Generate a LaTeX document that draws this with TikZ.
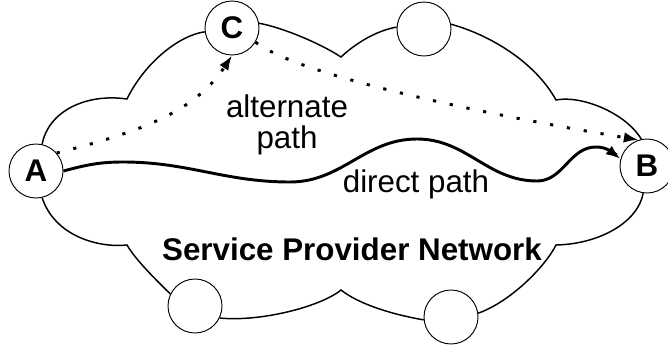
\documentclass[tikz,border=0pt]{standalone}
\usepackage{fontspec}
\setmainfont{Liberation Sans}
\usetikzlibrary{arrows.meta}
\tikzset{
    site/.style={
    circle,
    draw,
    line width=0.7pt,
    minimum size=40.5pt,
    inner sep=0pt,
    font=\fontsize{23.5}{23.5}\selectfont\bfseries
  },
    cloudline/.style={
    line width=1.1pt
  },
    directpath/.style={
    line width=2.2pt,
    -{Latex[length=11pt,width=8pt]}
  },
    altpath/.style={
    line width=2.2pt,
    dash pattern=on 2.4pt off 10.4pt,
    -{Latex[length=11pt,width=8pt]}
  },
    pathlabel/.style={
    font=\fontsize{23.5}{23.3}\selectfont,
    align=center,
    inner sep=0pt
  }
}

\begin{document}
\begin{tikzpicture}[x=0.75pt, y=0.75pt]
  \useasboundingbox (0,0) rectangle (668,347);

  \node[site] (n_A) at (36,176) {A};
  \node[site] (n_C) at (232,319) {C};
  \node[site] (n_D) at (424,318) {};
  \node[site] (n_B) at (647,181) {B};
  \node[site] (n_E) at (195,41) {};
  \node[site] (n_F) at (451,30) {};

  \coordinate (k_1) at (127,248);
  \coordinate (k_2) at (341,290);
  \coordinate (k_3) at (556,247);
  \coordinate (k_4) at (556,102);
  \coordinate (k_5) at (341,57);
  \coordinate (k_6) at (127,102);

  % the cloud, one piece between each pair of sites
  \draw[cloudline] (n_A.77) .. controls (48,235) and (85,254) .. (k_1)
    .. controls (145,285) and (180,312) .. (n_C.188);
  \draw[cloudline] (n_C.10) .. controls (280,320) and (318,305) .. (k_2)
    .. controls (355,303) and (375,316) .. (n_D.176);
  \draw[cloudline] (n_D.10) .. controls (490,312) and (535,285) .. (k_3)
    .. controls (580,252) and (625,235) .. (n_B.102);
  \draw[cloudline] (n_B.262) .. controls (638,125) and (600,103) .. (k_4)
    .. controls (545,80) and (510,45) .. (n_F.8);
  \draw[cloudline] (n_F.186) .. controls (395,32) and (360,42) .. (k_5)
    .. controls (320,40) and (260,25) .. (n_E.334);
  \draw[cloudline] (n_E.154) .. controls (155,68) and (135,88) .. (k_6)
    .. controls (100,99) and (55,110) .. (n_A.283);

  \draw[altpath] (n_A.41) .. controls (140,215) and (195,235) .. (n_C.270);
  \draw[altpath] (n_C.-31) .. controls (300,270) and (500,230) .. (n_B.108);
  \draw[directpath] (n_A.0) to[out=15,in=180] (123,185) to[out=0,in=180] (290,165)
    to[out=0,in=180] (417,208) to[out=0,in=180] (537,166)
    to[out=0,in=180] (596,200) to[out=0,in=143] (n_B.165);

  \node[pathlabel] (l_alt) at (287,222.5) {alternate\\path};
  \node[pathlabel, anchor=base] (l_dir) at (416,155) {direct path};
  \node[pathlabel, anchor=base, font=\fontsize{23.5}{23.5}\selectfont\bfseries] (l_net) at (352,87) {Service Provider Network};
\end{tikzpicture}
\end{document}
